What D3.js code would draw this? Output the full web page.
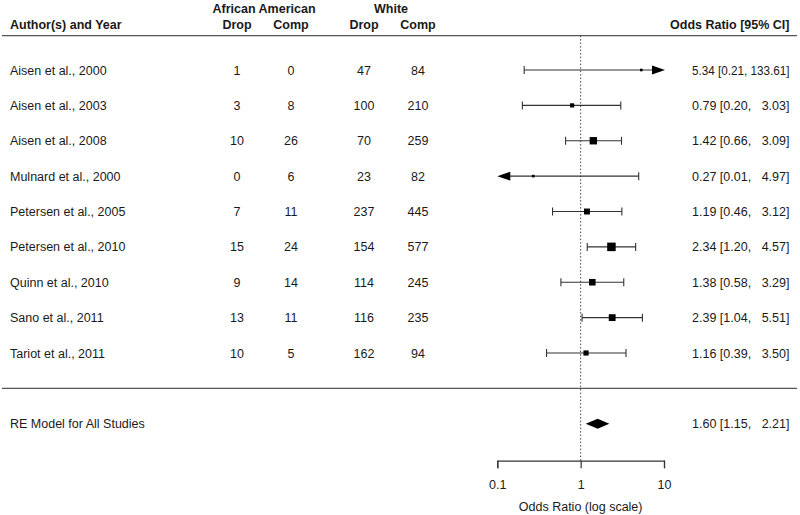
<!DOCTYPE html>
<html>
<head>
<meta charset="utf-8">
<script src="https://cdn.jsdelivr.net/npm/d3@7"></script>
<style>
  html, body { margin: 0; padding: 0; background: #fff; }
  svg { display: block; font-family: "Liberation Sans", Arial, Helvetica, sans-serif; }
  .ci { white-space: pre; }
</style>
</head>
<body>
<svg id="chart" width="800" height="515"></svg>
<script>
// ---------- data ----------
const authors = ["Aisen et al., 2000", "Aisen et al., 2003", "Aisen et al., 2008", "Mulnard et al., 2000",
  "Petersen et al., 2005", "Petersen et al., 2010", "Quinn et al., 2010", "Sano et al., 2011", "Tariot et al., 2011"];
const aaDrop = [1, 3, 10, 0, 7, 15, 9, 13, 10];
const aaComp = [0, 8, 26, 6, 11, 24, 14, 11, 5];
const whiteDrop = [47, 100, 70, 23, 237, 154, 114, 116, 162];
const whiteComp = [84, 210, 259, 82, 445, 577, 245, 235, 94];
const oddsRatio = [5.34, 0.79, 1.42, 0.27, 1.19, 2.34, 1.38, 2.39, 1.16];
const ciLower = [0.21, 0.20, 0.66, 0.01, 0.46, 1.20, 0.58, 1.04, 0.39];
const ciUpper = [133.61, 3.03, 3.09, 4.97, 3.12, 4.57, 3.29, 5.51, 3.50];
const summaryLabel = ["RE Model for All Studies"];
const summaryOR = [1.60];
const summaryLower = [1.15];
const summaryUpper = [2.21];
const xTicks = [0.1, 1, 10];

// ---------- setup ----------
const svg = d3.select("#chart");
const ink = "#1a1a1a";
const fs = 12.5;
const k = authors.length;

const x = d3.scaleLog().domain([0.1, 10]).range([497.3, 664]);
// row index: k..1 for studies, 0 separator, -1 summary
const y = d3.scaleLinear().domain([k, 1]).range([70, 353]);

const colAAD = 237, colAAC = 291, colWD = 364, colWC = 418;
const ciLeftX = 692, ciRightX = 789.5;

// CI label formatting (upper bound padded to common width, as in the source table)
const allUpper = ciUpper.concat(summaryUpper).map(v => v.toFixed(2));
const upW = d3.max(allUpper, s => s.length);
const ciLabel = (o, l, h) => `${o.toFixed(2)} [${l.toFixed(2)}, ${h.toFixed(2).padStart(upW, " ")}]`;

// header
const hdr = svg.append("g").attr("font-weight", "bold").attr("font-size", fs).attr("fill", ink);
hdr.append("text").attr("x", 10).attr("y", 28.5).text("Author(s) and Year");
hdr.append("text").attr("x", (colAAD + colAAC) / 2).attr("y", 12.5).attr("text-anchor", "middle").text("African American");
hdr.append("text").attr("x", 391).attr("y", 12.5).attr("text-anchor", "middle").text("White");
[[colAAD, "Drop"], [colAAC, "Comp"], [colWD, "Drop"], [colWC, "Comp"]].forEach(([cx, t]) =>
  hdr.append("text").attr("x", cx).attr("y", 28.5).attr("text-anchor", "middle").text(t));
hdr.append("text").attr("x", ciRightX).attr("y", 28.5).attr("text-anchor", "end").text("Odds Ratio [95% CI]");

// horizontal rules
const ruleY = [y(k + 1) + 1, y(0)];
svg.selectAll("line.rule").data(ruleY).enter().append("line")
  .attr("x1", 2).attr("x2", 797).attr("y1", d => d).attr("y2", d => d)
  .attr("stroke", "#555").attr("stroke-width", 1.2);

// axis
const axisY = 460.7;
const axisG = svg.append("g").attr("transform", `translate(0,${axisY})`)
  .call(d3.axisBottom(x).tickValues(xTicks).tickFormat(d3.format("")).tickSizeOuter(0).tickSize(7.5));
axisG.select(".domain").attr("stroke", "#333").attr("stroke-width", 1.2);
axisG.selectAll(".tick line").attr("stroke", "#333").attr("stroke-width", 1.2);
axisG.selectAll(".tick text").attr("font-size", fs).attr("fill", ink)
  .attr("font-family", "Liberation Sans, Arial, sans-serif").attr("dy", "0").attr("y", 28);
svg.append("text").attr("x", x(1)).attr("y", 511).attr("text-anchor", "middle")
  .attr("font-size", fs).attr("fill", ink).text("Odds Ratio (log scale)");

// reference line
svg.append("line").attr("x1", x(1)).attr("x2", x(1)).attr("y1", ruleY[0]).attr("y2", axisY)
  .attr("stroke", "#444").attr("stroke-width", 1).attr("stroke-dasharray", "1.5,2");

// study rows
const studies = authors.map((a, i) => ({
  a, row: k - i, d1: aaDrop[i], c1: aaComp[i], d2: whiteDrop[i], c2: whiteComp[i],
  or: oddsRatio[i], lo: ciLower[i], hi: ciUpper[i],
  w: 3.92 / (Math.log(ciUpper[i]) - Math.log(ciLower[i]))
}));
const maxW = d3.max(studies, d => d.w);
const sizeScale = d3.scaleLinear().domain([0, maxW]).range([0, 8.5]);

const rows = svg.selectAll("g.row").data(studies).enter().append("g")
  .attr("transform", d => `translate(0,${y(d.row)})`)
  .attr("font-size", fs).attr("fill", ink);
rows.append("text").attr("x", 10).attr("y", 4.5).text(d => d.a);
[["d1", colAAD], ["c1", colAAC], ["d2", colWD], ["c2", colWC]].forEach(([key, cx]) =>
  rows.append("text").attr("x", cx).attr("y", 4.5).attr("text-anchor", "middle").text(d => d[key]));
rows.append("text").attr("class", "ci").attr("x", ciLeftX).attr("y", 4.5)
  .attr("textLength", ciRightX - ciLeftX).attr("lengthAdjust", "spacingAndGlyphs")
  .text(d => ciLabel(d.or, d.lo, d.hi));

const [xMin, xMax] = x.domain();
const ciCol = "#333";
rows.append("line")
  .attr("x1", d => x(Math.max(d.lo, xMin)) + (d.lo < xMin ? 12 : 0))
  .attr("x2", d => x(Math.min(d.hi, xMax)) - (d.hi > xMax ? 12 : 0))
  .attr("y1", 0).attr("y2", 0).attr("stroke", ciCol).attr("stroke-width", 1.1);
// caps
rows.filter(d => d.lo >= xMin).append("line")
  .attr("x1", d => x(d.lo)).attr("x2", d => x(d.lo)).attr("y1", -4).attr("y2", 4)
  .attr("stroke", ciCol).attr("stroke-width", 1.1);
rows.filter(d => d.hi <= xMax).append("line")
  .attr("x1", d => x(d.hi)).attr("x2", d => x(d.hi)).attr("y1", -4).attr("y2", 4)
  .attr("stroke", ciCol).attr("stroke-width", 1.1);
// arrows
rows.filter(d => d.hi > xMax).append("path")
  .attr("d", d => { const t = x(xMax) + 1; return `M${t},0L${t - 13},-4.5L${t - 13},4.5Z`; })
  .attr("fill", "#000");
rows.filter(d => d.lo < xMin).append("path")
  .attr("d", d => { const t = x(xMin); return `M${t},0L${t + 13},-4.5L${t + 13},4.5Z`; })
  .attr("fill", "#000");
// squares
const side = d => Math.max(2.6, sizeScale(d.w));
rows.append("rect")
  .attr("x", d => x(d.or) - side(d) / 2)
  .attr("y", d => -side(d) / 2)
  .attr("width", side).attr("height", side)
  .attr("fill", "#000");

// summary
const summ = summaryLabel.map((l, i) => ({ l, or: summaryOR[i], lo: summaryLower[i], hi: summaryUpper[i], row: -1 - i }));
const sg = svg.selectAll("g.summ").data(summ).enter().append("g")
  .attr("transform", d => `translate(0,${y(d.row)})`).attr("font-size", fs).attr("fill", ink);
sg.append("text").attr("x", 10).attr("y", 4).text(d => d.l);
sg.append("text").attr("class", "ci").attr("x", ciLeftX).attr("y", 4)
  .attr("textLength", ciRightX - ciLeftX).attr("lengthAdjust", "spacingAndGlyphs")
  .text(d => ciLabel(d.or, d.lo, d.hi));
sg.append("path")
  .attr("d", d => `M${x(d.lo)},0L${x(d.or)},-5L${x(d.hi)},0L${x(d.or)},5Z`)
  .attr("fill", "#000");
</script>
</body>
</html>
